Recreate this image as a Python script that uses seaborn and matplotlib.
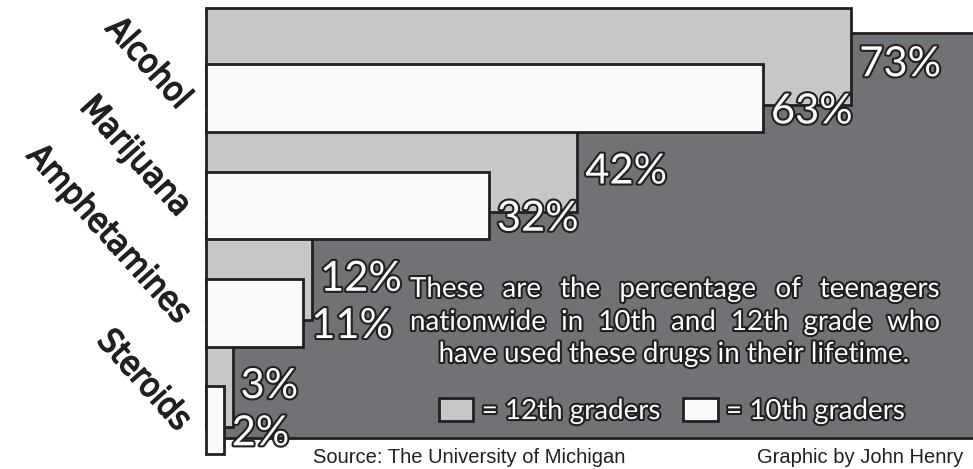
import numpy as np
import pandas as pd
import matplotlib
matplotlib.use("Agg")
import matplotlib.pyplot as plt
import matplotlib.patheffects as pe
import matplotlib.transforms as mtrans
from matplotlib import font_manager as fm
from matplotlib.patches import Rectangle
import seaborn as sns

# ---------------- data ----------------
categories = ["Alcohol", "Marijuana", "Amphetamines", "Steroids"]
grade12 = [73, 42, 12, 3]
grade10 = [63, 32, 11, 2]
series_labels = ["= 12th graders", "= 10th graders"]
note_lines = ["These are the percentage of teenagers",
              "nationwide in 10th and 12th grade who",
              "have used these drugs in their lifetime."]
source_text = "Source: The University of Michigan"
credit_text = "Graphic by John Henry"

# ---------------- style ----------------
sns.set_style("white")
names = {f.name for f in fm.fontManager.ttflist}
main_font = "Lato" if "Lato" in names else "DejaVu Sans"
if "Liberation Sans Narrow" in names:
    cond_font, cond_stretch, cond_size = "Liberation Sans Narrow", "normal", 28
else:
    cond_font, cond_stretch, cond_size = "DejaVu Sans", "condensed", 24
arial = "Liberation Sans" if "Liberation Sans" in names else "DejaVu Sans"

EDGE = "#231f20"
GRAY = "#c6c7c9"
WHITE = "#fafafa"
PANEL = "#717276"

W, H = 973, 469
fig = plt.figure(figsize=(W / 100, H / 100), dpi=100)
fig.patch.set_facecolor("white")
ax_left = 206
ax = fig.add_axes([ax_left / W, 0, (W - ax_left) / W, 1])

px_per_pct = 8.84
xmax = (W - ax_left) / px_per_pct
# vertical mapping: pixel = 24.7 + 107.3 * y
y0, unit = 24.7, 107.3
ytop = -y0 / unit
ybot = (H - y0) / unit

idx = np.arange(len(categories))
df12 = pd.DataFrame({"pos": idx + 0.295, "val": grade12})
df10 = pd.DataFrame({"pos": idx + 0.685, "val": grade10})

sns.barplot(data=df12, x="val", y="pos", orient="h", native_scale=True,
            width=0.91, color=GRAY, saturation=1, edgecolor=EDGE,
            linewidth=2, ax=ax, label=series_labels[0], zorder=2)
sns.barplot(data=df10, x="val", y="pos", orient="h", native_scale=True,
            width=0.63, color=WHITE, saturation=1, edgecolor=EDGE,
            linewidth=2, ax=ax, label=series_labels[1], zorder=3)
for c in ax.containers:
    for p in c.patches:
        p.set_clip_on(False)

# dark panel behind
panel_top = (33 - y0) / unit
panel_bot = (438 - y0) / unit
ax.add_patch(Rectangle((-2, panel_top), xmax + 4, panel_bot - panel_top,
                       facecolor=PANEL, edgecolor=EDGE, linewidth=2, zorder=1))

ax.set_xlim(0, xmax)
ax.set_ylim(ybot, ytop)
ax.set_xlabel("")
ax.set_ylabel("")
ax.set_xticks([])
ax.set_yticks([])
for s in ax.spines.values():
    s.set_visible(False)
ax.patch.set_alpha(0)

stroke = [pe.withStroke(linewidth=3, foreground=EDGE)]
heavy = [pe.withStroke(linewidth=1.1, foreground=EDGE)]

# value labels
for i, (g, w) in enumerate(zip(grade12, grade10)):
    ax.annotate(f"{g}%", xy=(g, i + 0.48), xytext=(8, 0), textcoords="offset pixels",
                ha="left", va="baseline", fontsize=30, color="white",
                fontfamily=main_font, path_effects=stroke, zorder=5,
                annotation_clip=False)
    ax.annotate(f"{w}%", xy=(w, i + 0.92), xytext=(8, 0), textcoords="offset pixels",
                ha="left", va="baseline", fontsize=30, color="white",
                fontfamily=main_font, path_effects=stroke, zorder=5,
                annotation_clip=False)

# category labels (rotated)
trans = mtrans.blended_transform_factory(fig.transFigure, ax.transData)
for i, cat in enumerate(categories):
    fig.text(178 / W, i + 0.8, cat, transform=trans, rotation=-48,
             rotation_mode="anchor", ha="right", va="baseline",
             fontsize=cond_size, fontfamily=cond_font, fontstretch=cond_stretch,
             color=EDGE, path_effects=heavy)

# note text (first two lines justified)
renderer = fig.canvas.get_renderer()
note_kw = dict(fontsize=20, color="white", fontfamily=main_font,
               path_effects=stroke, va="baseline")
baselines = [297, 330, 362]
x_left, x_right = 410, 940
for li, (line, bl) in enumerate(zip(note_lines, baselines)):
    yfig = 1 - bl / H
    if li < 2:
        words = line.split()
        texts = [fig.text(0, yfig, wd, ha="left", **note_kw) for wd in words]
        widths = [t.get_window_extent(renderer).width for t in texts]
        gap = (x_right - x_left - sum(widths)) / (len(words) - 1)
        x = x_left
        for t, wdt in zip(texts, widths):
            t.set_x(x / W)
            x += wdt + gap
    else:
        fig.text((x_left + x_right) / 2 / W, yfig, line, ha="center", **note_kw)

# legend
leg = ax.legend(handles=list(ax.containers), labels=series_labels, ncol=2,
                loc="center", bbox_to_anchor=(672 / W, 1 - 411 / H),
                bbox_transform=fig.transFigure, frameon=False,
                prop={"family": main_font, "size": 20},
                handlelength=1.25, handleheight=0.9, handletextpad=0.3,
                columnspacing=0.8, borderpad=0, borderaxespad=0)
for t in leg.get_texts():
    t.set_color("white")
    t.set_path_effects(stroke)

# footer
fig.text(313 / W, 1 - 463 / H, source_text, ha="left", va="baseline",
         fontsize=14.5, fontfamily=arial, color=EDGE)
fig.text(963 / W, 1 - 463 / H, credit_text, ha="right", va="baseline",
         fontsize=14.5, fontfamily=arial, color=EDGE)

fig.savefig("out.png", dpi=100, facecolor="white")
